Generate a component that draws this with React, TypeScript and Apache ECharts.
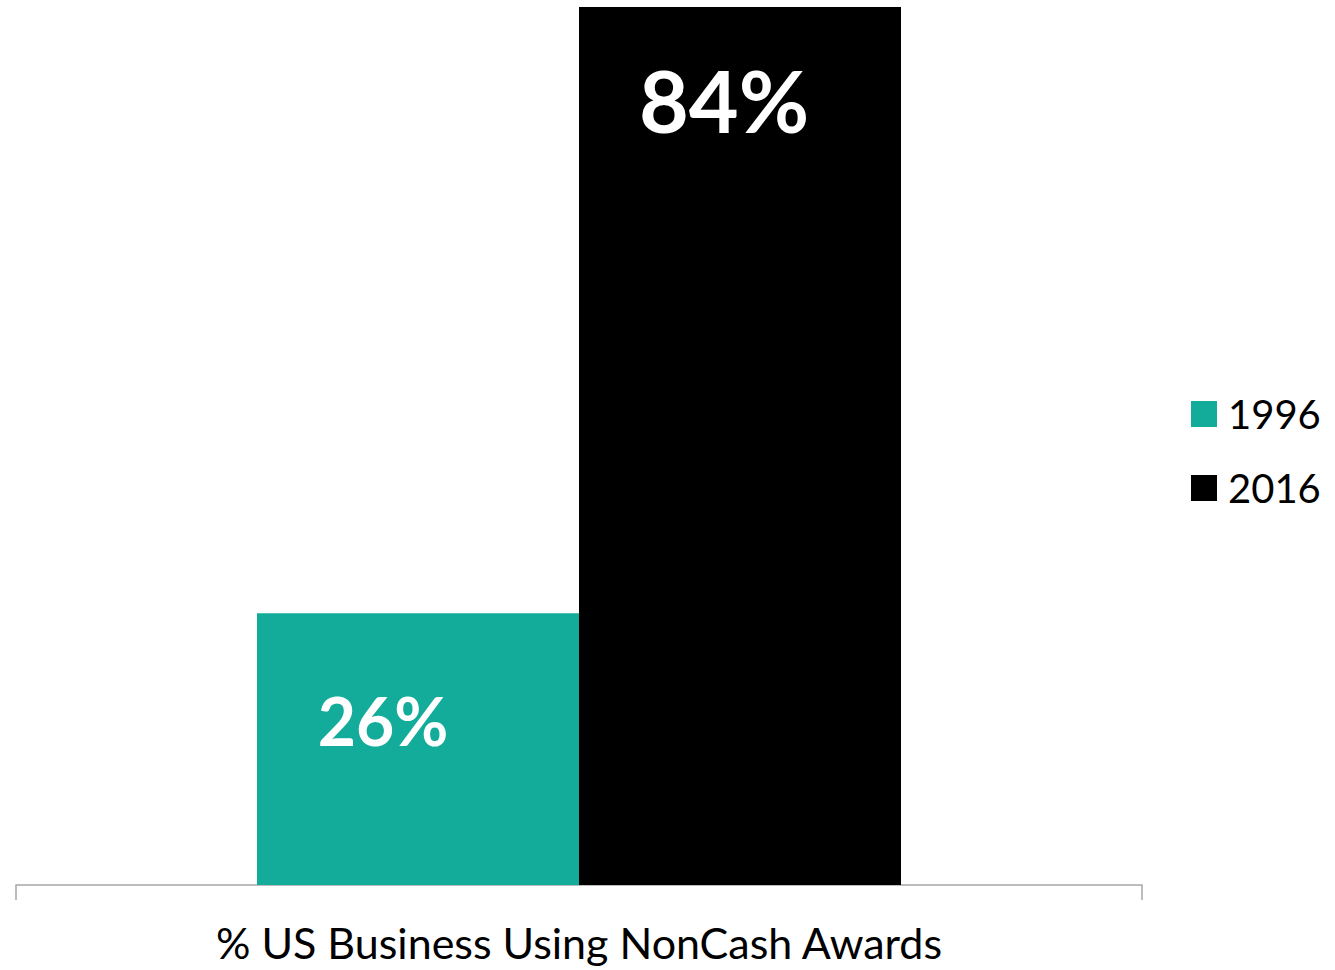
import React, { useEffect, useRef } from "react";
import * as echarts from "echarts";

const categories = ["% US Business Using NonCash Awards"];
const seriesNames = ["1996", "2016"];
const values1996 = [26];
const values2016 = [84];
const colors = ["#13AC9A", "#000000"];

export default function App() {
  const ref = useRef<HTMLDivElement>(null);
  useEffect(() => {
    if (!ref.current) return;
    const chart = echarts.init(ref.current, null, { renderer: "svg" });
    chart.setOption({
      animation: false,
      grid: { left: 16, right: 193, top: 7, bottom: 85, containLabel: false },
      legend: {
        orient: "vertical",
        left: 1186,
        top: 389,
        itemWidth: 26,
        itemHeight: 26,
        itemGap: 34,
        icon: "rect",
        data: seriesNames,
        textStyle: { fontFamily: "Lato", fontSize: 40, color: "#000", padding: [0, 0, 0, 6] },
      },
      xAxis: {
        type: "category",
        data: categories,
        axisLine: { lineStyle: { color: "#a6a6a6", width: 1.5 } },
        axisTick: { show: true, length: 15, lineStyle: { color: "#a6a6a6", width: 1.5 } },
        axisLabel: { fontFamily: "Lato", fontSize: 43, color: "#000", margin: 36 },
      },
      yAxis: {
        type: "value",
        min: 0,
        max: 84,
        show: false,
        splitLine: { show: false },
      },
      series: [
        {
          name: seriesNames[0],
          type: "bar",
          data: values1996,
          barWidth: 322,
          barGap: "0%",
          itemStyle: { color: colors[0] },
          label: {
            show: true,
            position: [126, 107],
            align: "center",
            verticalAlign: "middle",
            formatter: "{c}%",
            fontFamily: "Lato",
            fontWeight: "bold",
            fontSize: 66,
            color: "#fff",
          },
        },
        {
          name: seriesNames[1],
          type: "bar",
          data: values2016,
          barWidth: 322,
          barGap: "0%",
          itemStyle: { color: colors[1] },
          label: {
            show: true,
            position: [145, 92],
            align: "center",
            verticalAlign: "middle",
            formatter: "{c}%",
            fontFamily: "Lato",
            fontWeight: "bold",
            fontSize: 86,
            color: "#fff",
          },
        },
      ],
    });
    return () => chart.dispose();
  }, []);
  return (
    <div
      ref={ref}
      style={{ position: "fixed", left: 0, top: 0, width: 1335, height: 970, background: "#fff" }}
    />
  );
}
